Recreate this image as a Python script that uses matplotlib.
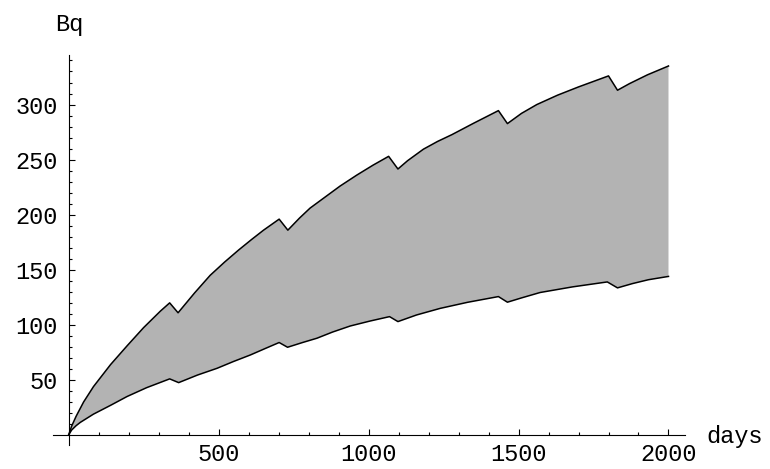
import numpy as np
import matplotlib.pyplot as plt
from matplotlib.ticker import FixedLocator, FuncFormatter

# upper bound of activity (Bq) vs. days
upper_days = [0, 10, 25, 50, 83, 140, 195, 250, 306, 337,
              365, 420, 472, 520, 567, 610, 650, 702,
              731, 770, 805, 850, 905, 961, 1015, 1067,
              1098, 1130, 1183, 1230, 1278, 1350, 1433,
              1463, 1510, 1561, 1630, 1700, 1750, 1800,
              1830, 1870, 1930, 2000]
upper_bq = [0, 8, 17, 30, 44, 64, 81, 97.5, 112.5, 120,
            111, 129, 145, 157, 168, 177.5, 186, 196,
            186, 197, 206, 215, 226, 236, 245, 253,
            241.5, 249, 259.5, 266.5, 272.7, 283, 294.5,
            282.7, 292, 300, 308.5, 316, 321, 326,
            313, 319, 327, 335]

# lower bound
lower_days = [0, 10, 25, 39, 83, 140, 195, 260, 337,
              367, 430, 495, 550, 606, 655, 702,
              730, 780, 828, 880, 939, 1005, 1070,
              1098, 1160, 1239, 1330, 1433,
              1463, 1510, 1572, 1680, 1796,
              1830, 1880, 1933, 2000]
lower_bq = [0, 4.5, 8.5, 11.5, 19, 27, 35, 43, 51,
            47.6, 54.5, 60.6, 66.8, 72.7, 78.5, 84,
            79.7, 84, 87.9, 93.5, 99, 103.5, 107.5,
            103, 109, 115, 120.5, 125.7,
            120.6, 124.5, 129.4, 134.5, 139,
            133.6, 137.5, 141, 144]

x_major = [500, 1000, 1500, 2000]
y_major = [50, 100, 150, 200, 250, 300]

plt.rcParams['font.family'] = ['Liberation Mono', 'DejaVu Sans Mono']

fig = plt.figure(figsize=(7.7, 4.69), dpi=100)
ax = fig.add_axes([0.0692, 0.0512, 0.8204, 0.8316])

# shaded band between the two curves
xs = np.concatenate([upper_days, lower_days[::-1]])
ys = np.concatenate([upper_bq, lower_bq[::-1]])
ax.fill(xs, ys, color='#b3b3b3', lw=0)
ax.plot(upper_days, upper_bq, color='black', lw=1.1)
ax.plot(lower_days, lower_bq, color='black', lw=1.1)

ax.set_xlim(-51, 2055)
ax.set_ylim(-9, 345)

# Mathematica style axes crossing at the origin
for s in ['top', 'right']:
    ax.spines[s].set_visible(False)
ax.spines['left'].set_position(('data', 0))
ax.spines['bottom'].set_position(('data', 0))
ax.spines['left'].set_linewidth(0.8)
ax.spines['bottom'].set_linewidth(0.8)

ax.xaxis.set_major_locator(FixedLocator(x_major))
ax.xaxis.set_minor_locator(FixedLocator([v for v in range(100, 2001, 100) if v % 500]))
ax.yaxis.set_major_locator(FixedLocator(y_major))
ax.yaxis.set_minor_locator(FixedLocator([v for v in range(10, 341, 10) if v % 50]))
ax.xaxis.set_major_formatter(FuncFormatter(lambda v, p: '%d' % v))
ax.yaxis.set_major_formatter(FuncFormatter(lambda v, p: '%d' % v))

ax.tick_params(which='both', direction='in', width=0.8, labelsize=17)
ax.tick_params(which='major', length=4)
ax.tick_params(which='minor', length=2.5)
ax.tick_params(axis='x', pad=6)
ax.tick_params(axis='y', pad=8)

fig.text(69 / 770, 1 - 25 / 469, 'Bq', fontsize=17, ha='center', va='center')
fig.text(735 / 770, 1 - 436 / 469, 'days', fontsize=17, ha='center', va='center')

fig.savefig('out.png', dpi=100)
